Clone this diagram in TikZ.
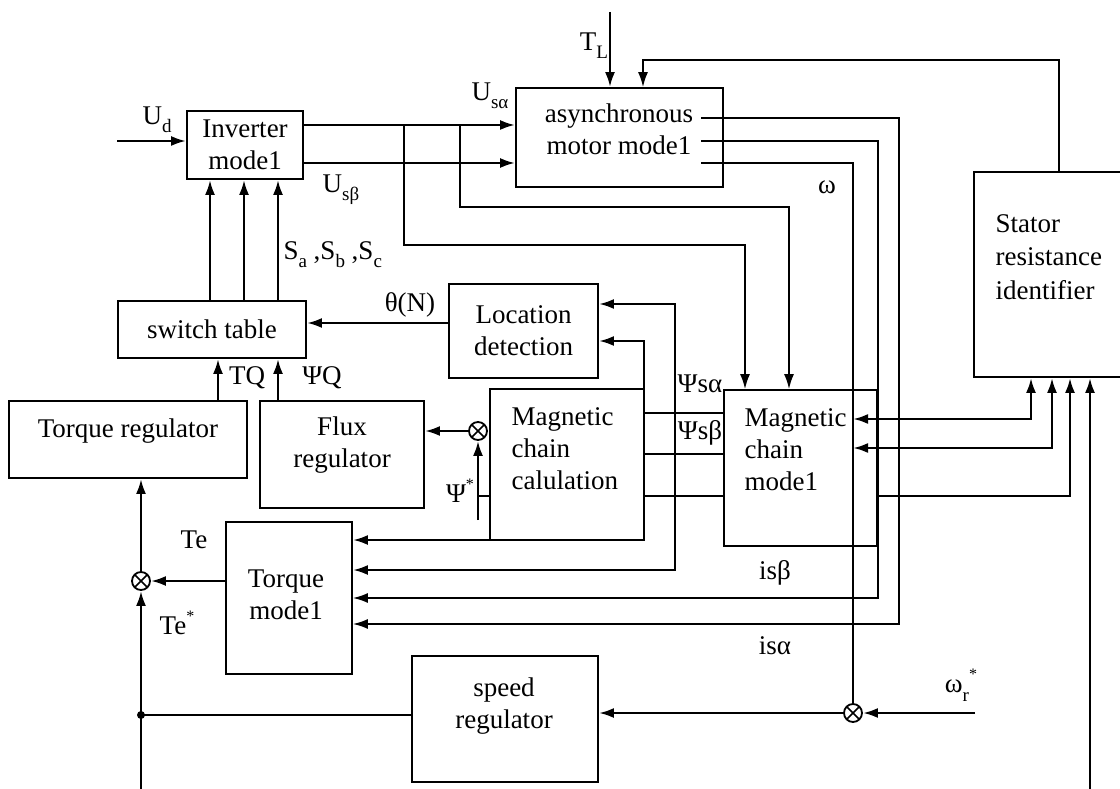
\documentclass[tikz,border=0pt]{standalone}
\usepackage{fontspec}
\setmainfont{Liberation Serif}
\usetikzlibrary{arrows.meta}
\newcommand\sbs[1]{\raisebox{-0.3em}{\fontsize{19}{19}\selectfont #1}}
\newcommand\sps[1]{\raisebox{0.5em}{\fontsize{16}{16}\selectfont #1}}
\begin{document}
\begin{tikzpicture}[x=1pt,y=-1pt,
  font=\fontsize{27}{32}\selectfont,
  box/.style={draw, line width=1.8pt},
  thk/.style={line width=2.6pt},
  thn/.style={line width=1.7pt},
  arr/.style={thk,-{Latex[length=15pt,width=10pt]}},
  arrt/.style={thn,-{Latex[length=15pt,width=10pt]}},
  arrb/.style={thk,{Latex[length=15pt,width=10pt]}-{Latex[length=15pt,width=10pt]}},
  sumj/.style={circle,draw,line width=1.8pt,minimum size=18pt,inner sep=0pt,
    path picture={\draw[line width=1.5pt] (path picture bounding box.north west)--(path picture bounding box.south east)
      (path picture bounding box.north east)--(path picture bounding box.south west);}}]
\useasboundingbox (0,0) rectangle (1120,789);
\fill[white] (0,0) rectangle (1120,789);

% blocks
\node[box, minimum width=116pt, minimum height=68pt, align=center] (inv) at (245,145) {Inverter\\mode1};
\node[box, minimum width=207pt, minimum height=99pt] (motor) at (619.5,137.5) {};
\node[align=center] (motortxt) at (619,129) {asynchronous\\motor mode1};
\node[box, minimum width=151pt, minimum height=205pt] (stator) at (1049.5,274.5) {};
\node[anchor=west, align=left, font=\fontsize{27}{33.5}\selectfont] (statortxt) at (992,257) {Stator\\resistance\\identifier};
\node[box, minimum width=188pt, minimum height=57pt] (switch) at (212,329.5) {switch table};
\node[box, minimum width=149pt, minimum height=94pt, align=center] (loc) at (523.5,331) {Location\\detection};
\node[box, minimum width=238pt, minimum height=77pt] (treg) at (128,439.5) {};
\node (tregtxt) at (128,431) {Torque regulator};
\node[box, minimum width=164pt, minimum height=107pt] (freg) at (342,454.5) {};
\node[align=center] (fregtxt) at (342,445) {Flux\\regulator};
\node[box, minimum width=154pt, minimum height=151pt] (mcalc) at (567,464.5) {};
\node[anchor=west, align=left] (mcalctxt) at (508,449) {Magnetic\\chain\\calulation};
\node[box, minimum width=153pt, minimum height=156pt] (mmodel) at (800.5,468) {};
\node[anchor=west, align=left] (mmodeltxt) at (741,450) {Magnetic\\chain\\mode1};
\node[box, minimum width=126pt, minimum height=152pt] (tmodel) at (289,598) {};
\node[align=center] (tmodeltxt) at (286,594.5) {Torque\\mode1};
\node[box, minimum width=186pt, minimum height=126pt] (sreg) at (505,719) {};
\node[align=center] (sregtxt) at (504,706) {speed\\regulator};

% summing junctions
\node[sumj] (s1) at (141,581) {};
\node[sumj] (s2) at (478,431) {};
\node[sumj] (s3) at (853,713) {};

% free ends
\coordinate (udin) at (117,141);
\coordinate (ja) at (404,125);
\coordinate (jb) at (460,125);
\coordinate (tl) at (610,12);
\coordinate (psin) at (478,520);
\coordinate (tein) at (141,789);
\coordinate (dot) at (141,715);
\coordinate (wrin) at (975,713);
\coordinate (rsin) at (1090,789);

% connectors
\draw[arr] (udin) -- (udin -| inv.west);
\draw[arr] (inv.east |- 0,125) -- (motor.west |- 0,125);
\draw[arr] (inv.east |- 0,163) -- (motor.west |- 0,163);
\draw[arrt] (ja) |- (745,245) -- (745,0 |- mmodel.north);
\draw[arrt] (jb) |- (789,207) -- (789,0 |- mmodel.north);
\draw[arr] (tl) -- (tl |- motor.north);
\draw[arrt] (1059,0 |- stator.north) |- (643,60) -- (643,0 |- motor.north);
\draw[arrt] (701,118) -| (899,624) -- (tmodel.east |- 0,624);
\draw[arrt] (701,141) -| (878,598) -- (tmodel.east |- 0,598);
\draw[thn] (701,163) -| (s3.north);

\draw[thn] (mcalc.east |- 0,413) -- (mmodel.west |- 0,413);
\draw[thn] (mcalc.east |- 0,454) -- (mmodel.west |- 0,454);
\draw[thn] (mcalc.east |- 0,496) -- (mmodel.west |- 0,496);
\draw[thn] (mcalc.west |- 0,496) -- (478,496);
\draw[arr] (psin) -- (s2.south);
\draw[arr] (s2.west) -- (s2 -| freg.east);

\draw[arrb] (loc.east |- 0,304) -| (675,570) -- (tmodel.east |- 0,570);
\draw[arrb] (loc.east |- 0,341) -| (644,540) -- (tmodel.east |- 0,540);
\draw[arr] (loc.west |- 0,323) -- (switch.east |- 0,323);

\foreach \xx in {210,244,278} {\draw[arr] (\xx,0 |- switch.north) -- (\xx,0 |- inv.south);}
\draw[arr] (218,0 |- treg.north) -- (218,0 |- switch.south);
\draw[arr] (278,0 |- freg.north) -- (278,0 |- switch.south);

\draw[arr] (s1.north) -- (s1 |- treg.south);
\draw[arr] (tmodel.west |- s1) -- (s1.east);
\draw[arr] (tein) -- (s1.south);
\fill (dot) circle[radius=4];
\draw[thn] (dot) -- (dot -| sreg.west);
\draw[arr] (s3.west) -- (s3 -| sreg.east);
\draw[arr] (wrin) -- (s3.east);

\draw[arrb] (853,419) -| (1031,0 |- stator.south);
\draw[arrb] (853,448) -| (1052,0 |- stator.south);
\draw[arr] (mmodel.east |- 0,496) -| (1070,0 |- stator.south);
\draw[arr] (rsin) -- (rsin |- stator.south);

% labels
\node (lud) at (157,120) {U\sbs{d}};
\node (lusa) at (490,96) {U\sbs{sα}};
\node (lusb) at (341,190) {U\sbs{sβ}};
\node (ltl) at (594,46) {T\sbs{L}};
\node (lw) at (827,187) {ω};
\node[anchor=west] (ls) at (280,255) {S\sbs{a} ,S\sbs{b} ,S\sbs{c}};
\node (lth) at (410,305) {θ(N)};
\node (ltq) at (247,378) {TQ};
\node (lpq) at (322,378) {ΨQ};
\node (lpa) at (700,384) {Ψsα};
\node (lpb) at (700,433) {Ψsβ};
\node (lps) at (460,491) {Ψ\sps{*}};
\node (lib) at (775,573) {isβ};
\node (lia) at (775,646) {isα};
\node (lte) at (194,540) {Te};
\node (ltes) at (177,623) {Te\sps{*}};
\node (lwr) at (961,685) {ω\sbs{r}\sps{*}};
\end{tikzpicture}
\end{document}
